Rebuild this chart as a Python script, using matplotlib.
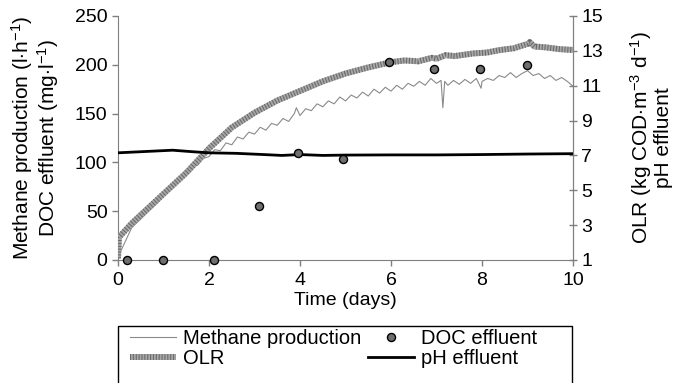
import matplotlib.pyplot as plt
from matplotlib.lines import Line2D
from matplotlib.patches import Rectangle

plt.rcParams['font.family'] = ['Liberation Sans', 'DejaVu Sans']
plt.rcParams['mathtext.fontset'] = 'custom'
plt.rcParams['mathtext.rm'] = 'Liberation Sans'
plt.rcParams['mathtext.it'] = 'Liberation Sans:italic'

# --------------- methane production (l/h), left axis ---------------
t_ch4 = [0.0, 0.3, 0.9, 1.5, 1.625, 1.75, 1.875, 2.0, 2.125, 2.25, 2.375,
         2.5, 2.625, 2.75, 2.875, 3.0, 3.125, 3.25, 3.375, 3.5, 3.625, 3.75,
         3.875, 3.92, 4.0, 4.125, 4.25, 4.375, 4.5, 4.625, 4.75, 4.875, 5.0,
         5.125, 5.25, 5.375, 5.5, 5.625, 5.75, 5.875, 6.0, 6.125, 6.25, 6.375,
         6.5, 6.625, 6.75, 6.875, 7.0, 7.1, 7.14, 7.18, 7.25, 7.375, 7.5,
         7.625, 7.75, 7.875, 7.98, 8.0, 8.125, 8.25, 8.375, 8.5, 8.625, 8.75,
         8.875, 9.0, 9.125, 9.25, 9.375, 9.5, 9.625, 9.75, 9.875, 10.0]
ch4 = [3, 33, 60, 92, 97, 97, 104, 106, 113, 112, 120,
       118, 126, 124, 131, 129, 136, 133, 140, 138, 145, 142,
       150, 156, 148, 155, 153, 160, 157, 163, 160, 167, 163,
       169, 166, 172, 168, 175, 171, 177, 173, 179, 175, 181,
       178, 183, 179, 186, 181, 184, 156, 183, 179, 184, 180,
       185, 181, 186, 176, 183, 186, 184, 189, 187, 192, 187,
       191, 194, 189, 191, 186, 189, 184, 187, 183, 178]

# --------------- DOC effluent (mg/l), left axis ---------------
t_doc = [0.2, 1.0, 2.1, 3.1, 3.95, 4.95, 5.95, 6.95, 7.95, 9.0]
doc = [0, 0, 0, 55, 110, 103, 203, 196, 196, 200]

# --------------- OLR (kg COD/m3/d), right axis ---------------
t_olr = [0.0, 0.02, 0.3, 0.92, 1.5, 2.0, 2.5, 3.0, 3.5, 4.0, 4.5, 5.0, 5.5,
         6.0, 6.3, 6.6, 6.9, 7.0, 7.2, 7.4, 7.8, 8.1, 8.4, 8.7, 9.0, 9.05,
         9.15, 9.4, 9.7, 10.0]
olr = [1.1, 2.3, 3.1, 4.6, 6.0, 7.4, 8.6, 9.45, 10.15, 10.7, 11.25, 11.7,
       12.05, 12.35, 12.45, 12.4, 12.6, 12.55, 12.75, 12.7, 12.85, 12.9,
       13.05, 13.15, 13.4, 13.5, 13.25, 13.2, 13.1, 13.05]

# --------------- pH effluent, right axis ---------------
t_ph = [0.0, 0.8, 1.2, 1.6, 2.0, 2.6, 3.2, 3.6, 4.0, 4.5, 5.0, 6.0, 7.0, 8.0,
        9.0, 10.0]
ph = [7.15, 7.25, 7.3, 7.22, 7.15, 7.12, 7.05, 7.0, 7.05, 7.0, 7.02, 7.03,
      7.03, 7.05, 7.08, 7.1]

fig = plt.figure(figsize=(6.73, 3.83), dpi=100)
ax = fig.add_axes([118/673, 1 - 260/383, (573 - 118)/673, (260 - 16)/383])
ax2 = ax.twinx()
ax3 = ax.twinx()

grey = '#7f7f7f'

l_ch4, = ax.plot(t_ch4, ch4, color='#8a8a8a', lw=0.8)

l_olr1, = ax2.plot(t_olr, olr, color='#a8a8a8', lw=4.3, solid_capstyle='butt')
l_olr2, = ax2.plot(t_olr, olr, color='#6a6a6a', lw=4.3,
                   dashes=(0.18, 0.3), dash_capstyle='butt')
l_ph, = ax2.plot(t_ph, ph, color='black', lw=2.0)

l_doc, = ax3.plot(t_doc, doc, 'o', ms=5.8, mfc='#6e6e6e', mec='black', mew=1.0,
                  clip_on=False)

ax.set_xlim(0, 10)
ax.set_ylim(0, 250)
ax2.set_ylim(1, 15)
ax3.set_ylim(0, 250)
ax3.axis('off')

ax.set_xticks(range(0, 11, 2))
ax.set_yticks(range(0, 251, 50))
ax2.set_yticks(range(1, 16, 2))

for a in (ax, ax2):
    a.spines['top'].set_visible(False)
    for s in ['left', 'bottom', 'right']:
        a.spines[s].set_color(grey)
ax2.spines['left'].set_visible(False)
ax2.spines['bottom'].set_visible(False)

ax.tick_params(axis='y', labelsize=14, color=grey, length=4, width=1, pad=3.5)
ax.tick_params(axis='x', labelsize=14, color=grey, length=4, width=1, pad=4.5)
ax2.tick_params(axis='y', labelsize=14, color=grey, length=6, width=1,
                direction='inout', pad=3)

ax.set_xlabel('Time (days)', fontsize=14, labelpad=2.5)
ax.set_ylabel('Methane production (l$\\cdot$h$^{-1}$)\nDOC effluent (mg$\\cdot$l$^{-1}$)',
              fontsize=15, linespacing=1.0)
ax2.set_ylabel('OLR (kg COD$\\cdot$m$^{-3}$ d$^{-1}$)\npH effluent',
               fontsize=15, linespacing=1.0)
ax.yaxis.set_label_coords(-0.125, 0.5)
ax2.yaxis.set_label_coords(1.121, 0.5)

# legend box, cut by the lower edge of the figure
fig.patches.append(Rectangle((118/673, -0.1), (572 - 118)/673,
                             (1 - 326/383) + 0.1, transform=fig.transFigure,
                             fill=False, ec='black', lw=1.0))

handles = [l_ch4, (l_olr1, l_olr2), l_doc, l_ph]
labels = ['Methane production', 'OLR', 'DOC effluent', 'pH effluent']
leg = fig.legend(handles, labels, ncol=2, loc='upper left',
                 bbox_to_anchor=(130/673, 1 - 329/383),
                 fontsize=14.5, frameon=False, borderpad=0, labelspacing=0.05,
                 handlelength=2.3, handletextpad=0.35, columnspacing=0.3,
                 borderaxespad=0)

fig.savefig('out.png', dpi=100)
